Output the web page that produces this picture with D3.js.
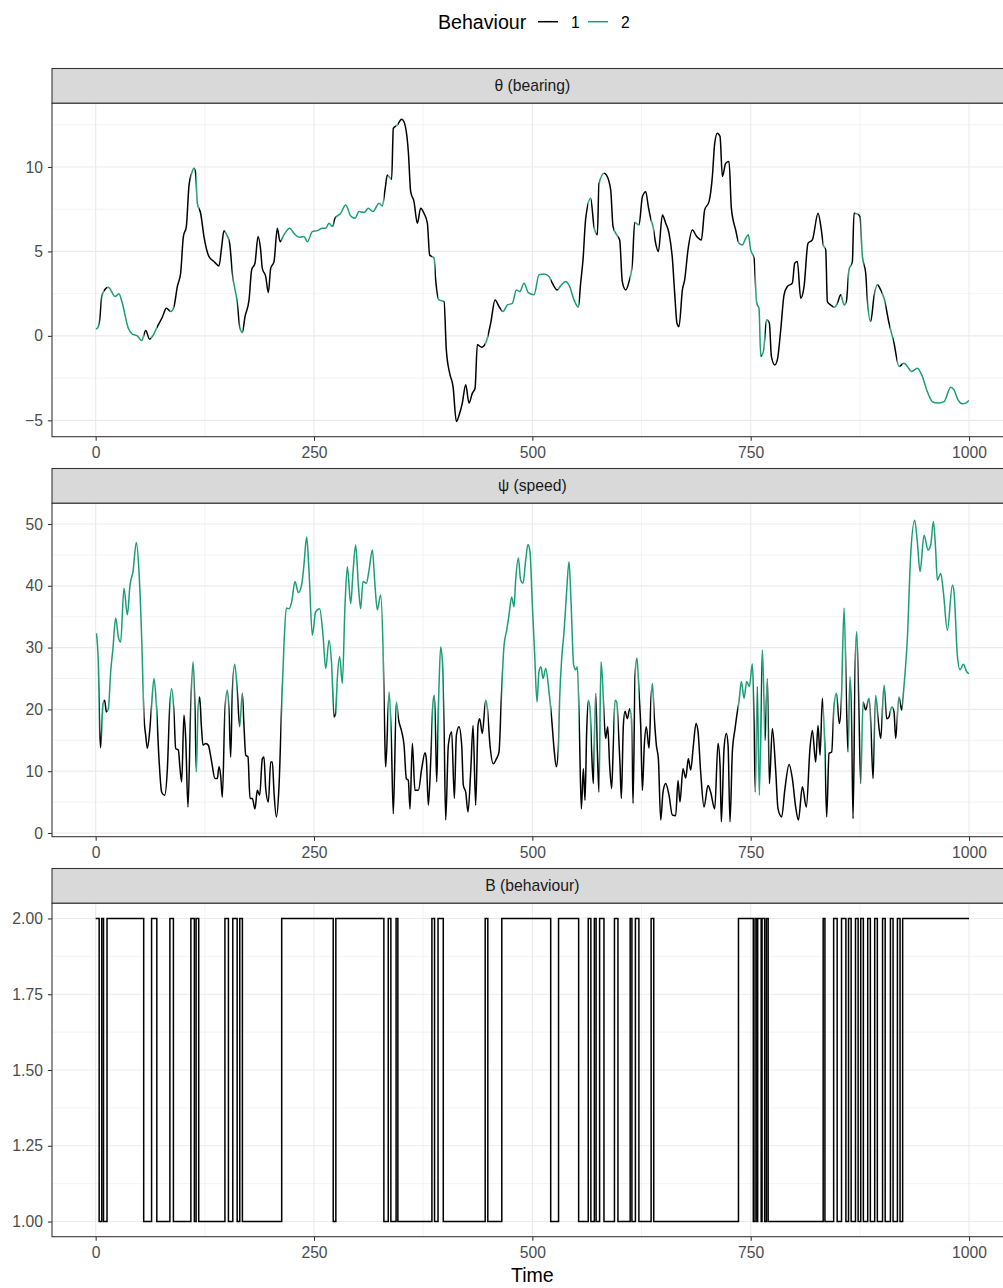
<!DOCTYPE html>
<html>
<head>
<meta charset="utf-8">
<script src="https://cdn.jsdelivr.net/npm/d3@7"></script>
<style>
  body { margin: 0; background: #ffffff; }
  svg text { font-family: "Liberation Sans", Arial, Helvetica, sans-serif; }
</style>
</head>
<body>
<svg id="chart" width="1003" height="1288"></svg>
<script>
// ---- data ---------------------------------------------------------------
const behaviourLabels = ["1", "2"];
const behaviourColours = ["#000000", "#1b9e77"];

// Behaviour state switches: [time at which the state starts, state]
const behaviourChanges = [
  [0,2],[4,1],[7,2],[9,1],[13,2],[55,1],[64,2],[70,1],[85,2],[89,1],
  [109,2],[113,1],[115,2],[118,1],[148,2],[152,1],[157,2],[162,1],[165,2],[168,1],
  [213,2],[272,1],[275,2],[330,1],[335,2],[338,1],[344,2],[346,1],[385,2],[388,1],
  [392,2],[398,1],[446,2],[449,1],[465,2],[521,1],[530,2],[553,1],[564,2],[567,1],
  [571,2],[573,1],[577,2],[582,1],[594,2],[598,1],[612,2],[614,1],[618,2],[622,1],
  [636,2],[639,1],[736,2],[753,1],[755,2],[757,1],[758,2],[762,1],[763,2],[766,1],
  [768,2],[770,1],[833,2],[835,1],[845,2],[849,1],[854,2],[859,1],[862,2],[865,1],
  [870,2],[873,1],[876,2],[879,1],[884,2],[887,1],[892,2],[895,1],[901,2],[904,1],
  [910,2],[913,1],[918,2],[921,1],[924,2]
];
const timeEnd = 1000;

// Bearing θ: [time, value]
const thetaPoints = [
  [0,0.4],[1.9,0.45],[4.6,0.95],[6.9,2.3],[9.5,2.66],[14.5,2.88],[17.2,2.72],[22.1,2.33],[26.7,2.49],[30.5,1.93],
  [37.4,0.45],[42,0.1],[47.7,0],[52.7,-0.28],[57.3,0.32],[61.8,-0.2],[64.9,-0.04],[70.6,0.55],[76.3,1.1],[80.9,1.64],
  [85.9,1.44],[89.7,1.74],[93.5,2.92],[97.3,3.71],[100.4,5.88],[103.8,6.47],[106.9,8.93],[109.9,9.63],[112.6,9.92],[114.5,9.63],
  [116.4,7.85],[120.2,7.26],[124,5.88],[129.8,4.69],[135.5,4.4],[141.2,4.14],[144.3,5.29],[146.9,6.23],[150,5.98],[153.4,5.48],
  [156.5,3.71],[162.2,1.93],[164.9,0.55],[167.9,0.2],[171,1.14],[175.6,2.13],[178.6,3.91],[182.4,4.3],[185.9,5.88],[188.9,5.09],
  [190.8,4.0],[194.7,3.51],[197.7,2.56],[200.4,4.0],[204.2,4.4],[208,6.37],[211.1,5.58],[215.6,5.98],[222.1,6.37],[227.1,6.07],
  [232.8,5.84],[238.5,5.88],[242.4,5.58],[248.1,6.17],[253.8,6.23],[259.5,6.37],[263.4,6.37],[267.2,6.67],[271,6.47],[274,6.96],
  [280.5,7.26],[286.3,7.75],[292,7.1],[297,6.96],[301.5,7.36],[307.3,7.3],[312.2,7.55],[317.6,7.36],[324.4,7.85],[328.2,7.69],
  [331.3,8.64],[334,9.53],[338.9,9.27],[340.8,12.29],[345.4,12.49],[350.4,12.82],[353,12.68],[358,10.91],[360.7,8.54],[364.5,7.95],
  [368.3,6.67],[372.1,7.55],[375.9,7.26],[379.8,6.67],[382.4,4.79],[387.4,4.6],[389.3,3.31],[393.1,2.13],[398.9,2.03],[401.5,-0.83],
  [405.3,-2.21],[409.2,-3.0],[413,-5.07],[416.8,-4.58],[419.8,-3.98],[423.7,-2.9],[427.5,-3.98],[431.3,-3.39],[434.4,-3.1],[437,-0.53],
  [442,-0.67],[446.6,-0.43],[452.3,0.75],[457.3,2.13],[461.8,1.74],[466.4,1.44],[471.4,1.83],[477.1,1.93],[481.7,2.72],[485.5,2.62],
  [490.5,3.12],[495.4,2.56],[501.9,2.43],[507.6,3.61],[513.4,3.67],[519.1,3.51],[522.9,3.12],[528.6,2.72],[532.4,2.96],[538.2,3.22],
  [542.7,2.92],[547.7,2.13],[552.7,1.7],[555.3,3.12],[558,4.5],[561.1,6.96],[566.8,8.15],[570.6,6.47],[574.4,5.98],[576.3,8.99],
  [582.1,9.63],[584.7,9.53],[589.7,8.64],[592.4,6.47],[597.3,5.92],[600,5.68],[603,3.21],[606.9,2.72],[610.7,3.21],[614.5,4.3],
  [617.2,6.71],[622.1,6.57],[626,8.24],[629.8,8.54],[632.8,7.65],[635.5,6.96],[638.2,6.47],[641.2,5.48],[644.3,4.99],[648.9,7.16],
  [652.7,6.67],[656.5,6.07],[660.3,4.6],[663,2.5],[665.6,0.75],[667.9,0.55],[671.8,2.72],[674.4,3.31],[678.2,5.09],[683.2,6.27],
  [688.2,5.88],[693.5,5.68],[697.3,7.46],[702.3,7.95],[706.1,9.43],[708.8,11.4],[711.8,11.99],[714.9,11.8],[717.6,9.43],[721.4,10.22],
  [725.2,10.32],[727.9,7.55],[732.8,6.27],[736.6,5.48],[740.5,5.38],[744.3,5.78],[747.3,5.98],[750,5.09],[753.8,4.6],[756.9,1.93],
  [759.5,1.64],[761.5,-1.22],[764.5,-0.93],[768.3,0.95],[771.4,0.75],[773.7,-1.22],[777.5,-1.72],[780.5,-1.42],[784.4,0.36],[788.2,2.43],
  [792,2.92],[797.7,3.12],[800.4,4.3],[803.4,4.4],[807.3,2.23],[811.1,2.92],[815.6,5.48],[820.6,5.68],[827.1,7.26],[830.9,6.27],
  [833.2,5.38],[835.9,5.09],[837.8,2.03],[841.6,1.83],[846.2,1.7],[849.2,1.93],[853.1,2.43],[856.9,1.83],[859.5,2.03],[862.6,3.91],
  [866.4,4.4],[868.3,7.26],[872.1,7.22],[875.2,7.06],[877.9,4.69],[881.7,3.71],[883.6,2.13],[887.4,0.85],[891.2,2.33],[895,3.02],
  [898.9,2.72],[902.7,2.23],[908.4,0.75],[914.1,-0.43],[919.8,-1.81],[925.6,-1.62],[929.4,-1.81],[934,-2.11],[940.8,-1.91],[946.6,-2.41],
  [951.5,-3.2],[958,-3.89],[963.7,-3.98],[971.4,-3.89],[979,-3.04],[982.8,-3.2],[987.4,-3.79],[992.4,-4.02],[996.2,-3.98],[1000,-3.83]
];

// Speed ψ: [time, value]
const psiPoints = [
  [0.8,32.3],[3,27.7],[4.6,16.4],[5.7,13.8],[8.4,20.9],[10.3,21.5],[12.2,19.6],[14.5,20.1],[17.2,26.1],[19.8,29.9],
  [22.9,34.8],[26,31.7],[28.6,30.9],[32.4,39.6],[36.3,35.3],[39.3,40.1],[42.7,42.3],[46.6,47.0],[49.6,42.3],[52.7,31.5],
  [55.3,18.8],[57.3,15.8],[59.2,13.7],[61.8,16.4],[64.1,20.7],[66.8,25.0],[69.5,20.7],[72.5,12.0],[75.6,6.6],[79,6.1],
  [82.1,10.4],[84.7,20.1],[87,23.4],[89.7,19.3],[91.6,13.7],[94.7,13.4],[96.6,10.4],[98.5,8.3],[101.1,19.1],[103.1,15.3],
  [105.7,4.2],[108.8,20.1],[111.5,27.7],[113.7,20.1],[115.3,9.9],[117.2,20.1],[119.1,22.0],[121,17.4],[122.9,14.2],[126,14.5],
  [129,14.2],[132.8,11.5],[136.6,8.8],[139.3,8.8],[141.2,10.7],[143.1,9.3],[145,5.8],[148.1,20.1],[150.8,23.1],[152.7,19.6],
  [154.6,12.3],[156.5,22.8],[159.2,27.3],[162.2,22.8],[164.9,17.2],[167.9,22.6],[169.8,17.4],[171.8,12.6],[174.4,12.3],[176.7,5.6],
  [179.4,5.6],[182.4,3.9],[185.1,6.9],[187.8,6.1],[190.8,12.0],[192.7,12.3],[194.7,7.2],[197.7,5.0],[200.4,11.5],[202.3,11.5],
  [204.2,6.6],[206.9,2.6],[209.9,7.5],[213,20.7],[215.6,30.4],[218.3,36.4],[221.4,36.3],[224.4,37.4],[228.2,40.7],[232.1,38.9],
  [235.9,40.2],[238.5,43.4],[241.6,47.9],[244.3,42.3],[248.1,32.0],[251.9,35.8],[256.5,36.3],[260.3,32.0],[263.4,26.6],[267.2,31.2],
  [270.2,27.2],[272.9,18.8],[274.8,19.3],[276.7,25.0],[279.4,28.5],[282.4,24.2],[285.5,36.9],[288.2,43.1],[292,37.1],[294.7,42.3],
  [297.7,46.6],[300.8,40.1],[303.4,36.3],[306.1,40.7],[309.9,40.4],[313,42.5],[316.8,45.8],[319.8,40.1],[322.5,36.1],[326.3,38.5],
  [329,30.2],[331.3,13.7],[332.1,10.7],[336,22.8],[338.5,15.3],[340.8,3.1],[344.3,21.2],[346.6,18.5],[350.4,16.4],[353.1,14.2],
  [355.7,8.8],[358,8.5],[359.9,3.9],[362.6,14.5],[365.6,6.9],[369.5,6.9],[373.3,10.4],[377.1,13.0],[378.6,12.0],[380.9,4.5],
  [383.6,11.5],[386.3,21.2],[387.8,22.3],[389.3,15.3],[390.5,8.3],[393.1,23.7],[395,30.1],[397,27.7],[398.9,16.9],[400.8,2.1],
  [403.8,14.2],[407.6,16.4],[410.7,5.6],[413,15.8],[416,17.2],[419.1,14.2],[421,7.7],[423.7,6.6],[426.3,3.4],[429.4,9.9],
  [432.1,17.4],[435.1,4.5],[437.8,17.4],[439.7,18.5],[442.7,16.1],[446.6,21.5],[448.5,20.1],[451.5,14.2],[455.3,11.2],[458.8,12.0],
  [461.8,13.1],[464.5,21.8],[467.6,30.4],[470.6,32.8],[473.3,35.3],[476.3,38.2],[479,36.6],[480.9,40.9],[484,44.5],[486.6,40.9],
  [489.3,40.4],[492.4,44.2],[495,46.7],[497.3,45.5],[500,36.9],[502.7,28.8],[505.3,21.2],[507.6,26.1],[509.9,26.9],[512.2,25.0],
  [515.3,26.6],[519.1,22.8],[522.1,18.5],[524.8,13.7],[527.5,10.7],[529.8,13.7],[531.3,21.8],[533.6,28.2],[536.3,32.6],[539,38.5],
  [542,43.9],[544.3,37.4],[547.3,27.2],[549.6,26.4],[551.5,26.9],[553.8,16.9],[556.1,3.9],[558.4,10.4],[560.3,5.3],[562.2,16.4],
  [564.1,21.5],[566,20.1],[567.9,13.1],[569.8,8.0],[572.5,22.6],[574.4,13.4],[576.3,6.6],[578.6,27.7],[580.2,25.0],[582.4,18.0],
  [583.9,15.3],[586.3,17.2],[588.5,11.0],[590.8,7.2],[592.7,14.2],[594.7,21.5],[596.6,21.2],[598.1,18.0],[600.4,11.0],[601.9,5.6],
  [604.2,17.4],[606.1,19.7],[608.8,18.5],[611.5,20.1],[613.4,18.5],[615.3,4.8],[617.6,25.3],[619.8,28.3],[622.1,22.8],[624.1,17.2],
  [626,6.9],[628.2,14.2],[630.5,17.2],[633.6,13.7],[635.9,21.8],[637.4,24.2],[639.7,18.5],[642,14.2],[644.3,12.0],[647,2.1],
  [649.6,6.6],[652.7,8.0],[656.5,6.1],[660.3,2.9],[664.1,2.8],[666.8,8.5],[669,5.0],[672.5,10.4],[675.6,8.9],[678.6,12.0],
  [681.3,10.2],[684.4,14.2],[687.4,17.7],[689.7,16.4],[692.7,9.9],[696.6,4.2],[701.1,7.7],[704.2,6.6],[708.8,3.9],[712.6,14.5],
  [714.9,11.0],[716.4,1.8],[719.5,13.7],[722.1,16.1],[724.1,14.2],[726.3,1.8],[729,13.1],[732.1,16.9],[734.7,19.6],[736.6,21.2],
  [739.3,24.5],[742.4,21.8],[745.4,24.5],[748.5,23.7],[751.9,27.4],[753.8,18.0],[755.3,6.6],[757.6,23.7],[759.9,6.1],[763.4,29.6],
  [765.3,20.7],[766.4,15.0],[769.1,25.0],[771.4,8.0],[774.8,16.9],[778.6,10.2],[781.3,3.9],[785.5,2.6],[789,6.9],[794,11.1],
  [797.7,8.8],[801.5,4.2],[804.6,2.1],[809.2,7.5],[813.7,4.2],[817.9,13.7],[820.6,16.6],[824.4,11.5],[827.1,17.4],[829.4,12.6],
  [832.1,21.8],[834.7,14.7],[837,2.6],[839.7,12.9],[842.7,13.1],[845.4,20.4],[848.1,22.6],[851.5,17.7],[853.8,21.2],[856.9,36.4],
  [860,19.1],[861.5,13.1],[863.7,25.3],[865.3,19.6],[867.2,2.3],[869.5,26.1],[871.4,32.6],[873.7,21.2],[876,8.0],[878.6,21.2],
  [881.7,19.9],[885.5,21.8],[887.4,18.0],[890.1,8.8],[893.1,22.3],[895.8,18.5],[898.9,15.3],[902.7,23.9],[905.7,18.5],[908.4,18.8],
  [911.5,20.4],[914.1,19.6],[916,15.3],[919.8,22.0],[922.9,19.9],[925.6,23.9],[929.4,31.5],[933.2,45.0],[937.8,50.6],[940.8,47.1],
  [943.9,42.3],[948.5,48.2],[953.1,45.8],[956.1,46.6],[959.2,50.4],[961.8,45.8],[963.7,40.9],[967.6,42.0],[970.6,39.0],[975.2,32.8],
  [980.9,40.1],[982.8,39.0],[986.6,28.8],[989.7,26.4],[993.5,27.3],[997.3,26.1],[1000,25.8]
];

// Axis breaks and labels
const timeTicks = [0, 250, 500, 750, 1000];
const timeMinorTicks = [125, 375, 625, 875];
const thetaTicks = [-5, 0, 5, 10];
const thetaMinorTicks = [-2.5, 2.5, 7.5, 12.5];
const psiTicks = [0, 10, 20, 30, 40, 50];
const psiMinorTicks = [5, 15, 25, 35, 45];
const behaviourTicks = [1, 1.25, 1.5, 1.75, 2];
const behaviourMinorTicks = [1.125, 1.375, 1.625, 1.875];
const panelTitles = ["\u03b8 (bearing)", "\u03c8 (speed)", "B (behaviour)"];
const xTitle = "Time";
const legendTitle = "Behaviour";

// ---- layout ---------------------------------------------------------------
const svg = d3.select("#chart");
const panelLeft = 52, panelRight = 1012.7;
const stripH = 34.8, panelH = 333.4, panelStep = 400;
const firstPanelTop = 103.3;
const gridCol = "#ebebeb", frameCol = "#333333", tickTextCol = "#4d4d4d";
const tickFont = 15.7;
const dataWidth = 1.5;

const x = d3.scaleLinear().domain([-50, 1050]).range([panelLeft, panelRight]);

// behaviour runs [start, end, state]
const runs = behaviourChanges.map((c, i) => [
  c[0], i + 1 < behaviourChanges.length ? behaviourChanges[i + 1][0] : timeEnd, c[1]
]);
const stepPoints = behaviourChanges.concat([[timeEnd, behaviourChanges[behaviourChanges.length - 1][1]]]);

const panels = [
  { title: panelTitles[0], points: thetaPoints, domain: [-5.97, 13.77], ticks: thetaTicks, minor: thetaMinorTicks, fmt: d3.format("d"), kind: "line" },
  { title: panelTitles[1], points: psiPoints, domain: [-0.6, 53.35], ticks: psiTicks, minor: psiMinorTicks, fmt: d3.format("d"), kind: "line" },
  { title: panelTitles[2], points: stepPoints, domain: [0.95, 2.05], ticks: behaviourTicks, minor: behaviourMinorTicks, fmt: d3.format(".2f"), kind: "step" }
];

const defs = svg.append("defs");

panels.forEach((p, i) => {
  const top = firstPanelTop + i * panelStep;
  const bottom = top + panelH;
  const y = d3.scaleLinear().domain(p.domain).range([bottom, top]);
  const g = svg.append("g");

  // strip
  g.append("rect")
    .attr("x", panelLeft).attr("y", top - stripH)
    .attr("width", panelRight - panelLeft).attr("height", stripH)
    .attr("fill", "#d9d9d9").attr("stroke", frameCol).attr("stroke-width", 1.07);
  g.append("text")
    .attr("x", (panelLeft + panelRight) / 2).attr("y", top - stripH / 2)
    .attr("dy", "0.35em").attr("text-anchor", "middle")
    .attr("font-size", tickFont).attr("fill", "#1a1a1a")
    .text(p.title);

  // panel background + grid
  g.append("rect").attr("x", panelLeft).attr("y", top)
    .attr("width", panelRight - panelLeft).attr("height", panelH).attr("fill", "#ffffff");
  const grid = g.append("g");
  grid.selectAll(".vminor").data(timeMinorTicks).join("line")
    .attr("x1", d => x(d)).attr("x2", d => x(d)).attr("y1", top).attr("y2", bottom)
    .attr("stroke", gridCol).attr("stroke-width", 0.6);
  grid.selectAll(".hminor").data(p.minor).join("line")
    .attr("x1", panelLeft).attr("x2", panelRight).attr("y1", d => y(d)).attr("y2", d => y(d))
    .attr("stroke", gridCol).attr("stroke-width", 0.6);
  grid.selectAll(".vmajor").data(timeTicks).join("line")
    .attr("x1", d => x(d)).attr("x2", d => x(d)).attr("y1", top).attr("y2", bottom)
    .attr("stroke", gridCol).attr("stroke-width", 1.15);
  grid.selectAll(".hmajor").data(p.ticks).join("line")
    .attr("x1", panelLeft).attr("x2", panelRight).attr("y1", d => y(d)).attr("y2", d => y(d))
    .attr("stroke", gridCol).attr("stroke-width", 1.15);

  if (p.kind === "line") {
    const line = d3.line().x(d => x(d[0])).y(d => y(d[1])).curve(d3.curveMonotoneX);
    const pathD = line(p.points);
    // each segment is coloured by the behaviour active at its start
    behaviourLabels.forEach((lab, s) => {
      const id = `clip-${i}-${s}`;
      const cp = defs.append("clipPath").attr("id", id);
      cp.selectAll("rect").data(runs.filter(r => r[2] === s + 1)).join("rect")
        .attr("x", r => x(r[0])).attr("width", r => x(r[1]) - x(r[0]))
        .attr("y", top - 5).attr("height", panelH + 10);
      g.append("path").attr("d", pathD)
        .attr("clip-path", `url(#${id})`)
        .attr("fill", "none").attr("stroke", behaviourColours[s])
        .attr("stroke-width", dataWidth).attr("stroke-linejoin", "round");
    });
  } else {
    const step = d3.line().x(d => x(d[0])).y(d => y(d[1])).curve(d3.curveStepAfter);
    g.append("path").attr("d", step(p.points))
      .attr("fill", "none").attr("stroke", "#000000").attr("stroke-width", dataWidth);
  }

  // frame
  g.append("rect").attr("x", panelLeft).attr("y", top)
    .attr("width", panelRight - panelLeft).attr("height", panelH)
    .attr("fill", "none").attr("stroke", frameCol).attr("stroke-width", 1.07);

  // axes
  const xa = g.append("g").attr("transform", `translate(0,${bottom})`)
    .call(d3.axisBottom(x).tickValues(timeTicks).tickSize(4.1).tickPadding(6).tickFormat(d3.format("d")));
  const ya = g.append("g").attr("transform", `translate(${panelLeft},0)`)
    .call(d3.axisLeft(y).tickValues(p.ticks).tickSize(4.1).tickPadding(5).tickFormat(p.fmt));
  [xa, ya].forEach(a => {
    a.select(".domain").remove();
    a.selectAll("line").attr("stroke", frameCol).attr("stroke-width", 1.07);
    a.selectAll("text").attr("fill", tickTextCol).attr("font-size", tickFont)
      .attr("font-family", "'Liberation Sans', Arial, sans-serif");
  });
  ya.selectAll("text").text(d => p.fmt(d).replace("-", "\u2212"));
});

// x-axis title
svg.append("text").attr("x", (panelLeft + panelRight) / 2).attr("y", 1282)
  .attr("text-anchor", "middle").attr("font-size", 19.6).attr("fill", "#000000")
  .text(xTitle);

// legend
const legend = svg.append("g");
legend.append("text").attr("x", 438).attr("y", 28.5)
  .attr("font-size", 19.6).attr("fill", "#000000").text(legendTitle);
const keyX = [538, 588];
behaviourLabels.forEach((lab, s) => {
  legend.append("line").attr("x1", keyX[s]).attr("x2", keyX[s] + 20)
    .attr("y1", 21.7).attr("y2", 21.7)
    .attr("stroke", behaviourColours[s]).attr("stroke-width", 1.5);
  legend.append("text").attr("x", keyX[s] + 33).attr("y", 27.5)
    .attr("font-size", tickFont).attr("fill", "#000000").text(lab);
});
</script>
</body>
</html>
